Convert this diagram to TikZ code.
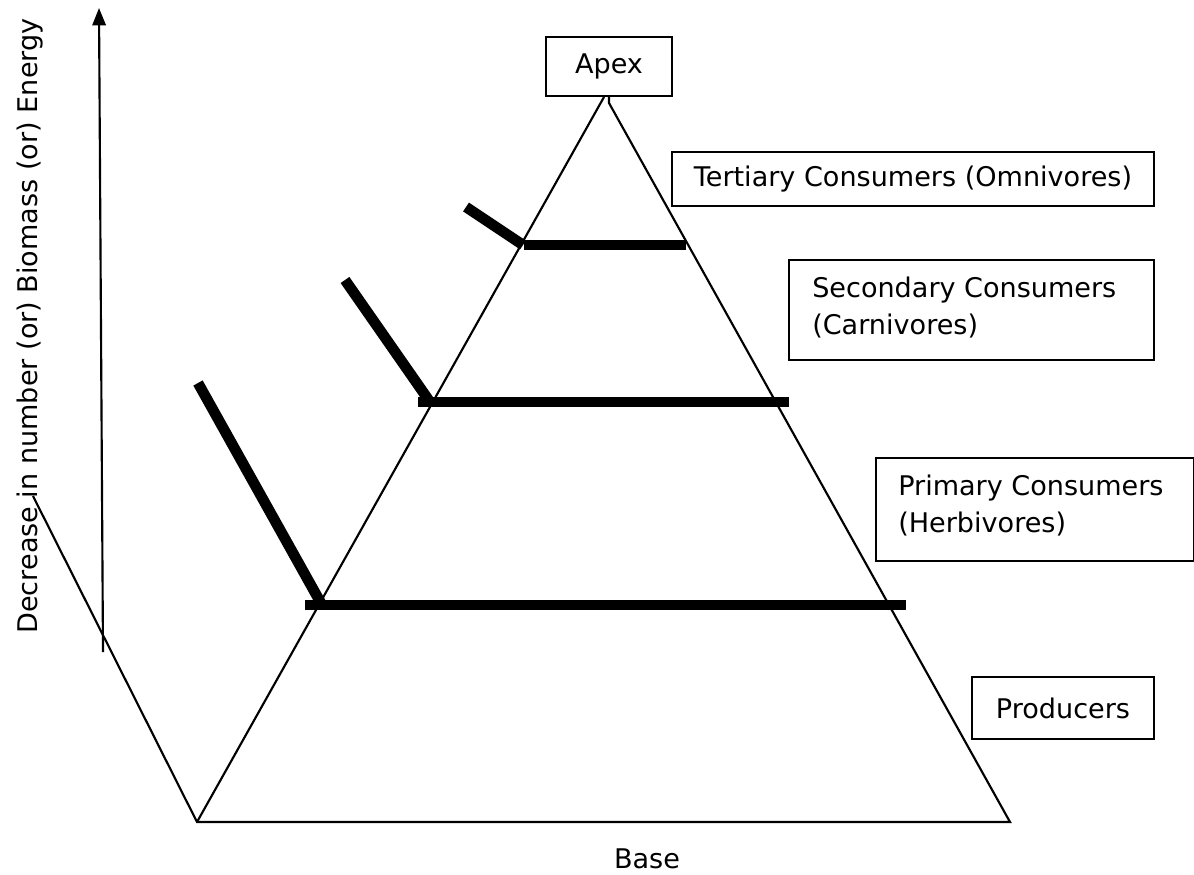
\documentclass[tikz,border=0pt]{standalone}
\usepackage{fontspec}
\setmainfont{DejaVu Sans}
\usetikzlibrary{arrows.meta}
\begin{document}
\begin{tikzpicture}[x=0.75pt,y=-0.75pt,
  thin line/.style={line width=1.6pt},
  bar/.style={line width=8pt},
  label box/.style={draw,line width=1.6pt,inner sep=0pt,font=\fontsize{20.3}{26}\selectfont},
  txt/.style={font=\fontsize{20.3}{26}\selectfont,inner sep=0pt}]
\useasboundingbox (0,0) rectangle (1194,874);
% pyramid
\coordinate (apexL) at (604,97);
\coordinate (apexR) at (609,103);
\coordinate (bl) at (197,822);
\coordinate (br) at (1010,822);
\coordinate (ax0) at (33,496);
\draw[thin line,line join=miter] (ax0) -- (bl) -- (br) -- (apexR) -- (609,97);
\draw[thin line] (bl) -- (apexL);
% axis arrow
\coordinate (arrB) at (103,652);
\coordinate (arrT) at (99,8);
\draw[thin line,-{Triangle[length=13pt,width=10pt]}] (arrB) -- (arrT);
% bars
\coordinate (b1l) at (524,245); \coordinate (b1r) at (686,245);
\coordinate (s1a) at (466,207); \coordinate (s1b) at (523,245);
\coordinate (b2l) at (418,402); \coordinate (b2r) at (789,402);
\coordinate (s2a) at (345,280); \coordinate (s2b) at (430,402);
\coordinate (b3l) at (305,605); \coordinate (b3r) at (906,605);
\coordinate (s3a) at (198,383); \coordinate (s3b) at (322,605);
\draw[bar] (b1l) -- (b1r);
\draw[bar] (s1a) -- (s1b);
\draw[bar] (b2l) -- (b2r);
\draw[bar] (s2a) -- (s2b);
\draw[bar] (b3l) -- (b3r);
\draw[bar] (s3a) -- (s3b);
% boxes
\node[label box,minimum width=126*0.75pt,minimum height=59*0.75pt,fill=white] (apex) at (609,66.5) {Apex};
\node[label box,minimum width=482*0.75pt,minimum height=54*0.75pt] (tert) at (913,179) {Tertiary Consumers (Omnivores)};
\node[label box,minimum width=365*0.75pt,minimum height=100*0.75pt] (sec) at (971.5,310) {};
\node[txt,anchor=west] (secT1) at (812,290) {Secondary Consumers};
\node[txt,anchor=west] (secT2) at (812,326) {(Carnivores)};
\node[label box,minimum width=318*0.75pt,minimum height=103*0.75pt] (prim) at (1035,509.5) {};
\node[txt,anchor=west] (primT1) at (898,488) {Primary Consumers};
\node[txt,anchor=west] (primT2) at (898,524) {(Herbivores)};
\node[label box,minimum width=182*0.75pt,minimum height=62*0.75pt] (prod) at (1063,708) {Producers};
\node[txt] (base) at (647,859) {Base};
\node[txt,rotate=90] (ylab) at (30,326) {Decrease in number (or) Biomass (or) Energy};
\end{tikzpicture}
\end{document}
